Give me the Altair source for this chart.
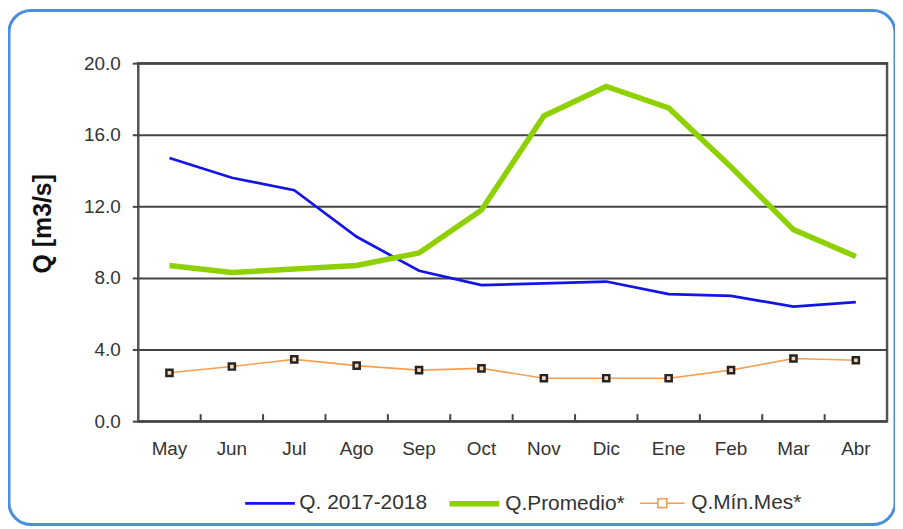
import altair as alt
import pandas as pd

months = ["May", "Jun", "Jul", "Ago", "Sep", "Oct", "Nov", "Dic", "Ene", "Feb", "Mar", "Abr"]
series_names = ["Q. 2017-2018", "Q.Promedio*", "Q.Mín.Mes*"]
q_2017_2018 = [14.7, 13.6, 12.9, 10.3, 8.4, 7.6, 7.7, 7.8, 7.1, 7.0, 6.4, 6.65]
q_promedio = [8.7, 8.3, 8.5, 8.7, 9.4, 11.8, 17.05, 18.7, 17.5, 14.2, 10.7, 9.2]
q_min_mes = [2.7, 3.05, 3.45, 3.1, 2.85, 2.95, 2.4, 2.4, 2.4, 2.85, 3.5, 3.4]
y_ticks = [0, 4, 8, 12, 16, 20]

colors = ["#1414e6", "#8fd100", "#f5a050"]
widths = [2.7, 5.5, 1.6]
legend_shapes = ["stroke", "stroke",
                 "M-0.9,0H-0.18M0.18,0H0.9M-0.18,-0.18H0.18V0.18H-0.18Z"]

rows = []
for name, vals in zip(series_names, [q_2017_2018, q_promedio, q_min_mes]):
    for i, (m, v) in enumerate(zip(months, vals)):
        rows.append({"month": m, "series": name, "Q": v, "idx": i})
df = pd.DataFrame(rows)
df_min = df[df["series"] == series_names[2]]
df_months = pd.DataFrame({"month": months[1:]})

FONT = "Liberation Sans"

x_scale = alt.Scale(domain=months, type="band", paddingInner=0, paddingOuter=0)
y_scale = alt.Scale(domain=[0, 20], nice=False)

x_enc = alt.X("month:N", scale=x_scale, sort=months, bandPosition=0.5,
              axis=alt.Axis(title=None, ticks=False, domain=False, labelFont=FONT,
                            labelFontSize=19, labelColor="#333", labelPadding=28,
                            labelAngle=0, labelAlign="center", bandPosition=0.5))
y_enc = alt.Y("Q:Q", scale=y_scale,
              axis=alt.Axis(title="Q [m3/s]", values=y_ticks, format=".1f",
                            domain=False, grid=True, gridColor="#444", gridWidth=2,
                            gridOpacity=1, tickColor="#444", tickWidth=2, tickSize=6,
                            labelFont=FONT, labelFontSize=19, labelColor="#333",
                            labelPadding=12, titleFont=FONT, titleFontSize=25,
                            titleFontWeight="bold", titleColor="#111",
                            titleAngle=270, titleBaseline="middle",
                            titleX=-96, titleY=161))

border = alt.Chart(alt.Data(values=[{}])).mark_rect(
    filled=False, stroke="#4a8fdc", strokeWidth=3, cornerRadius=22
).encode(
    x=alt.value(-130), x2=alt.value(761), y=alt.value(-53), y2=alt.value(464)
)

inner_ticks = alt.Chart(df_months).mark_rule(color="#444", strokeWidth=2).encode(
    x=alt.X("month:N", scale=x_scale, sort=months, bandPosition=0),
    y=alt.value(360), y2=alt.value(353)
)


def make_legend():
    return alt.Legend(
        title=None, orient="none", direction="horizontal", legendX=106, legendY=415,
        symbolType="stroke", symbolSize=2500, symbolOpacity=1,
        labelFont=FONT, labelFontSize=21, labelColor="#333", labelOffset=3,
        columnPadding=11, padding=0,
    )


lines = alt.Chart(df).mark_line().encode(
    x=x_enc,
    y=y_enc,
    color=alt.Color("series:N", scale=alt.Scale(domain=series_names, range=colors),
                    sort=series_names, legend=make_legend()),
    strokeWidth=alt.StrokeWidth("series:N",
                                scale=alt.Scale(type="ordinal", domain=series_names,
                                                range=widths),
                                sort=series_names, legend=make_legend()),
    order=alt.Order("idx:Q"),
)

legend_helper = alt.Chart(df).mark_point(opacity=0, filled=False).encode(
    x=alt.X("month:N", scale=x_scale, sort=months, bandPosition=0.5),
    y=alt.Y("Q:Q", scale=y_scale),
    color=alt.Color("series:N", scale=alt.Scale(domain=series_names, range=colors),
                    sort=series_names, legend=make_legend()),
    shape=alt.Shape("series:N", scale=alt.Scale(domain=series_names, range=legend_shapes),
                    sort=series_names, legend=make_legend()),
)

markers = alt.Chart(df_min).mark_point(
    shape="square", filled=True, fill="#f0d8bc", stroke="#2a2420",
    strokeWidth=2.5, size=38, opacity=1
).encode(
    x=alt.X("month:N", scale=x_scale, sort=months, bandPosition=0.5),
    y=alt.Y("Q:Q", scale=y_scale),
)

chart = alt.layer(border, inner_ticks, lines, legend_helper, markers).properties(
    width=753, height=360,
    autosize=alt.AutoSizeParams(type="none"),
    padding={"left": 131, "top": 54, "right": 8, "bottom": 110},
    background="white",
).configure_view(
    stroke="#555", strokeWidth=2.5, fill="white"
)

chart.save("out.html", embed_options={"renderer": "svg", "actions": False})
